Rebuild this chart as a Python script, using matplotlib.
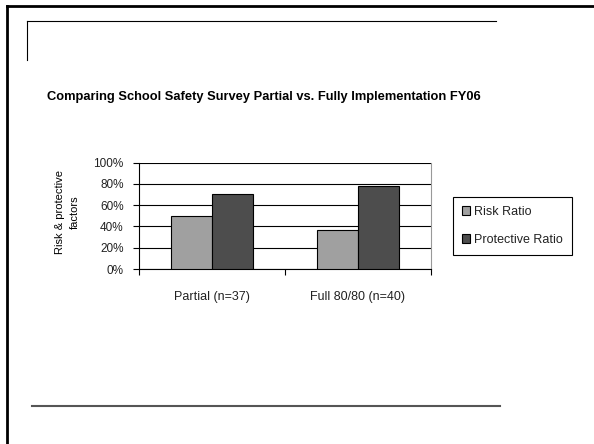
import matplotlib
matplotlib.use("Agg")
import matplotlib.pyplot as plt
from matplotlib.lines import Line2D
from matplotlib.patches import Patch
import numpy as np

categories = ["Partial (n=37)", "Full 80/80 (n=40)"]
risk_ratio = [0.50, 0.37]
protective_ratio = [0.71, 0.78]
series_names = ["Risk Ratio", "Protective Ratio"]
y_ticks = [0, 0.2, 0.4, 0.6, 0.8, 1.0]
y_tick_labels = ["0%", "20%", "40%", "60%", "80%", "100%"]
title = "Comparing School Safety Survey Partial vs. Fully Implementation FY06"
y_label = "Risk & protective\nfactors"

W, H = 594, 444
plt.rcParams['font.family'] = ['Liberation Sans', 'DejaVu Sans']
narrow = ['Liberation Sans', 'DejaVu Sans']

fig = plt.figure(figsize=(W / 100, H / 100), dpi=100)
fig.patch.set_facecolor('white')

def px(x, y):
    return x / W, 1 - y / H

def fline(x0, y0, x1, y1, **kw):
    a = px(x0, y0); b = px(x1, y1)
    fig.add_artist(Line2D([a[0], b[0]], [a[1], b[1]], transform=fig.transFigure, **kw))

# slide decorations
fline(6.5, 6.5, 594, 6.5, color='black', lw=2.0)
fline(6.5, 6.5, 6.5, 444, color='black', lw=2.0)
fline(27, 21, 496, 21, color='black', lw=0.8)
fline(27, 21, 27, 60, color='black', lw=0.8)
fline(32, 406, 500, 406, color='#555555', lw=1.5)

# title
tx, ty = px(263.5, 97)
fig.text(tx, ty, title, ha='center', va='center', fontsize=9.3, fontweight='bold')

# axes
l, t = px(139, 162.7)
r, b = px(431, 269)
ax = fig.add_axes([l, b, r - l, t - b])
x = np.arange(len(categories))
bw = 0.284
ax.bar(x - bw / 2, risk_ratio, bw, color='#a0a0a0', edgecolor='black', lw=0.8, zorder=3)
ax.bar(x + bw / 2, protective_ratio, bw, color='#4d4d4d', edgecolor='black', lw=0.8, zorder=3)
ax.set_xlim(-0.5, len(categories) - 0.5)
ax.set_ylim(0, 1.0)
ax.set_yticks(y_ticks)
ax.set_yticklabels(y_tick_labels, family=narrow, fontsize=8.5, color='#222222')
ax.yaxis.grid(True, color='black', lw=0.8, zorder=0)
ax.set_xticks(x)
ax.set_xticklabels(categories, family=narrow, fontsize=9, color='#222222')
ax.set_xticks(np.arange(-0.5, len(categories)), minor=True)
ax.tick_params(axis='x', which='major', length=0, pad=16)
ax.tick_params(axis='x', which='minor', length=4, width=0.8, direction='out')
ax.tick_params(axis='y', length=4, width=0.8, direction='out', pad=7)
ax.spines['top'].set_visible(False)
ax.spines['right'].set_color('#999999')
ax.spines['left'].set_color('black')
ax.spines['bottom'].set_color('black')

# y label
lx, ly = px(67.5, 212)
fig.text(lx, ly, y_label, rotation=90, ha='center', va='center', fontsize=8, linespacing=1.7)

# legend
handles = [Patch(facecolor='#a0a0a0', edgecolor='black', lw=0.8),
           Patch(facecolor='#4d4d4d', edgecolor='black', lw=0.8)]
lgx, lgy = px(453, 197)
leg = fig.legend(handles, series_names, loc='upper left', bbox_to_anchor=(lgx, lgy),
                 bbox_transform=fig.transFigure, borderaxespad=0, fancybox=False,
                 edgecolor='black', framealpha=1, prop={'family': narrow, 'size': 9},
                 handlelength=0.65, handleheight=0.65, handletextpad=0.35,
                 labelspacing=1.3, borderpad=0.7)
leg.get_frame().set_linewidth(0.8)
for txt in leg.get_texts():
    txt.set_color('#222222')

fig.savefig('out.png', dpi=100, facecolor='white')
